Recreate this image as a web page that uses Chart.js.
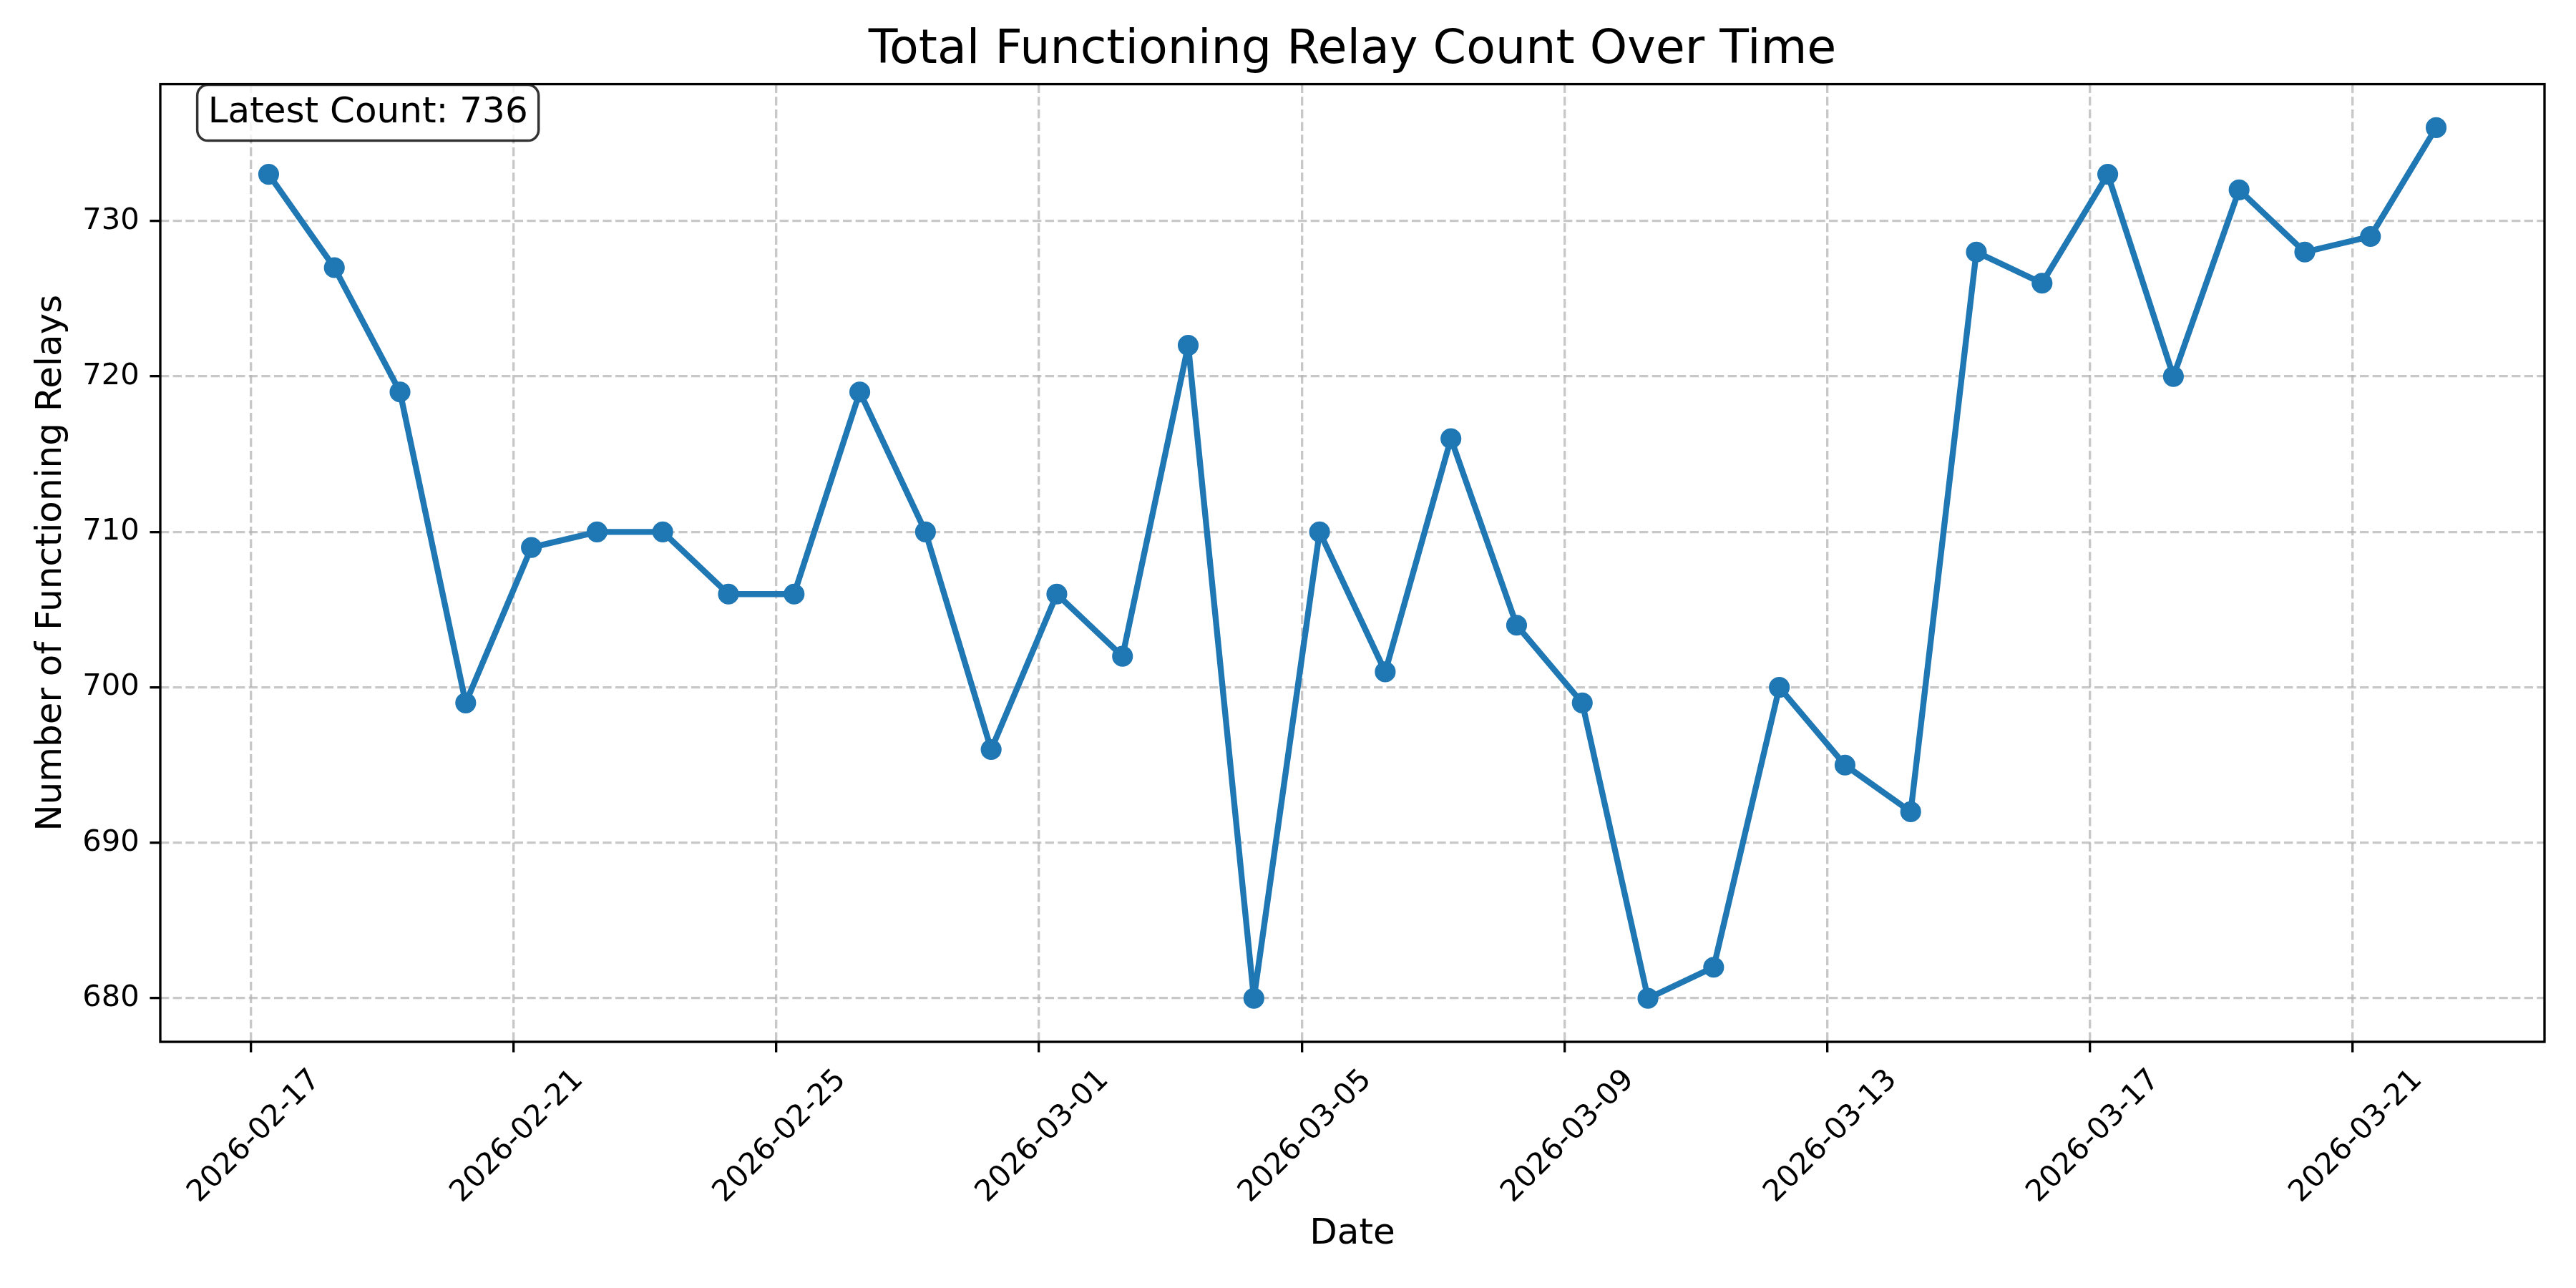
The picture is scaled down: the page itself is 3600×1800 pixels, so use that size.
<!DOCTYPE html>
<html>
<head>
<meta charset="utf-8">
<script src="https://cdn.jsdelivr.net/npm/chart.js@4.4.1/dist/chart.umd.min.js"></script>
<style>
html,body{margin:0;padding:0;background:#fff;}
canvas{display:block;}
</style>
</head>
<body>
<canvas id="c" width="3600" height="1800"></canvas>
<script>
// ---------------- data ----------------
const chartTitle = 'Total Functioning Relay Count Over Time';
const xAxisTitle = 'Date';
const yAxisTitle = 'Number of Functioning Relays';
const sampleDates = [
  '2026-02-17','2026-02-18','2026-02-19','2026-02-20','2026-02-21','2026-02-22',
  '2026-02-23','2026-02-24','2026-02-25','2026-02-26','2026-02-27','2026-02-28',
  '2026-03-01','2026-03-02','2026-03-03','2026-03-04','2026-03-05','2026-03-06',
  '2026-03-07','2026-03-08','2026-03-09','2026-03-10','2026-03-11','2026-03-12',
  '2026-03-13','2026-03-14','2026-03-15','2026-03-16','2026-03-17','2026-03-18',
  '2026-03-19','2026-03-20','2026-03-21','2026-03-22'
];
const sampleTime = 'T06:30:00Z';
const relayCounts = [
  733, 727, 719, 699, 709, 710,
  710, 706, 706, 719, 710, 696,
  706, 702, 722, 680, 710, 701,
  716, 704, 699, 680, 682, 700,
  695, 692, 728, 726, 733, 720,
  732, 728, 729, 736
];
const xTickLabels = ['2026-02-17','2026-02-21','2026-02-25','2026-03-01','2026-03-05','2026-03-09','2026-03-13','2026-03-17','2026-03-21'];
const yTickValues = [680, 690, 700, 710, 720, 730];
const latestLabel = 'Latest Count: ' + relayCounts[relayCounts.length - 1];

// ---------------- helpers ----------------
const DAY = 86400000;
const origin = Date.parse(xTickLabels[0] + 'T00:00:00Z');
const dayOf = s => (Date.parse(s) - origin) / DAY;
const points = sampleDates.map((d, i) => ({ x: dayOf(d + sampleTime), y: relayCounts[i] }));
const xTickValues = xTickLabels.map(s => dayOf(s + 'T00:00:00Z'));

const xs = points.map(p => p.x), ys = relayCounts;
const xMinD = Math.min(...xs), xMaxD = Math.max(...xs);
const yMinD = Math.min(...ys), yMaxD = Math.max(...ys);
const mx = 0.05 * (xMaxD - xMinD), my = 0.05 * (yMaxD - yMinD);

const PT = 300 / 72;
const FONT = 'DejaVu Sans';
Chart.defaults.font.family = FONT;
Chart.defaults.color = '#000';

const gridColor = 'rgba(176,176,176,0.7)';

const framePlugin = {
  id: 'frame',
  afterDatasetsDraw(chart) {
    const { ctx, chartArea: a } = chart;
    ctx.save();
    ctx.strokeStyle = '#000';
    ctx.lineWidth = 0.8 * PT;
    ctx.lineJoin = 'miter';
    ctx.strokeRect(a.left, a.top, a.right - a.left, a.bottom - a.top);
    ctx.restore();
  }
};

const annotationPlugin = {
  id: 'latestBox',
  afterDraw(chart) {
    const { ctx, chartArea: a } = chart;
    ctx.save();
    const fs = 12 * PT;
    ctx.font = fs + 'px "' + FONT + '"';
    const tw = ctx.measureText(latestLabel).width;
    const pad = 0.3 * fs;
    const tx = a.left + 0.02 * (a.right - a.left);
    const bx = tx - pad, by = a.top + 1;
    const bw = tw + 2 * pad, bh = 78;
    ctx.beginPath();
    ctx.roundRect(bx, by, bw, bh, pad);
    ctx.fillStyle = 'rgba(255,255,255,0.8)';
    ctx.fill();
    ctx.lineWidth = 3.5;
    ctx.strokeStyle = 'rgba(0,0,0,0.8)';
    ctx.stroke();
    ctx.fillStyle = '#000';
    ctx.textAlign = 'left';
    ctx.textBaseline = 'alphabetic';
    ctx.fillText(latestLabel, tx, by + 52);
    ctx.restore();
  }
};

new Chart(document.getElementById('c'), {
  type: 'line',
  data: {
    datasets: [{
      data: points,
      borderColor: '#1f77b4',
      backgroundColor: '#1f77b4',
      borderWidth: 2 * PT,
      borderJoinStyle: 'round',
      borderCapStyle: 'square',
      pointRadius: 3 * PT,
      pointBorderWidth: 1 * PT,
      pointBackgroundColor: '#1f77b4',
      pointBorderColor: '#1f77b4',
      pointHoverRadius: 3 * PT,
      tension: 0,
      fill: false
    }]
  },
  options: {
    responsive: false,
    animation: false,
    devicePixelRatio: 1,
    events: [],
    layout: { padding: { top: 0, right: 44, bottom: 0, left: 0 } },
    plugins: {
      legend: { display: false },
      tooltip: { enabled: false },
      title: {
        display: true,
        text: chartTitle,
        fullSize: false,
        color: '#000',
        font: { family: FONT, size: 16 * PT, weight: 'normal', lineHeight: 1.2 },
        padding: { top: 30.8, bottom: 6.8 }
      }
    },
    scales: {
      x: {
        type: 'linear',
        min: xMinD - mx,
        max: xMaxD + mx,
        afterBuildTicks: s => { s.ticks = xTickValues.map(v => ({ value: v })); },
        afterFit: s => { s.height = 344; s.paddingLeft = 0; s.paddingRight = 0; s.paddingTop = 0; s.paddingBottom = 0; },
        ticks: {
          autoSkip: false,
          maxRotation: 45,
          minRotation: 45,
          labelOffset: 91,
          padding: 3.5 * PT,
          color: '#000',
          font: { family: FONT, size: 10 * PT },
          callback: (v) => { const i = xTickValues.indexOf(v); return i >= 0 ? xTickLabels[i] : ''; }
        },
        grid: {
          color: gridColor,
          lineWidth: 0.8 * PT,
          drawTicks: true,
          tickLength: 3.5 * PT,
          tickColor: '#000',
          tickWidth: 0.8 * PT,
          tickBorderDash: []
        },
        border: { display: false, dash: [3.7 * 0.8 * PT, 1.6 * 0.8 * PT] },
        title: {
          display: true,
          text: xAxisTitle,
          color: '#000',
          font: { family: FONT, size: 12 * PT, lineHeight: 1.2 },
          padding: { top: 0, bottom: 45 }
        }
      },
      y: {
        type: 'linear',
        min: yMinD - my,
        max: yMaxD + my,
        afterBuildTicks: s => { s.ticks = yTickValues.map(v => ({ value: v })); },
        afterFit: s => { s.width = 224; s.paddingLeft = 0; s.paddingRight = 0; s.paddingTop = 0; s.paddingBottom = 0; },
        ticks: {
          padding: 3.5 * PT,
          color: '#000',
          font: { family: FONT, size: 10 * PT },
          callback: v => String(v)
        },
        grid: {
          color: gridColor,
          lineWidth: 0.8 * PT,
          drawTicks: true,
          tickLength: 3.5 * PT,
          tickColor: '#000',
          tickWidth: 0.8 * PT,
          tickBorderDash: []
        },
        border: { display: false, dash: [3.7 * 0.8 * PT, 1.6 * 0.8 * PT] },
        title: {
          display: true,
          text: yAxisTitle,
          color: '#000',
          font: { family: FONT, size: 12 * PT, lineHeight: 1.2 },
          padding: { top: 42, bottom: 0 }
        }
      }
    }
  },
  plugins: [framePlugin, annotationPlugin]
});
</script>
</body>
</html>
